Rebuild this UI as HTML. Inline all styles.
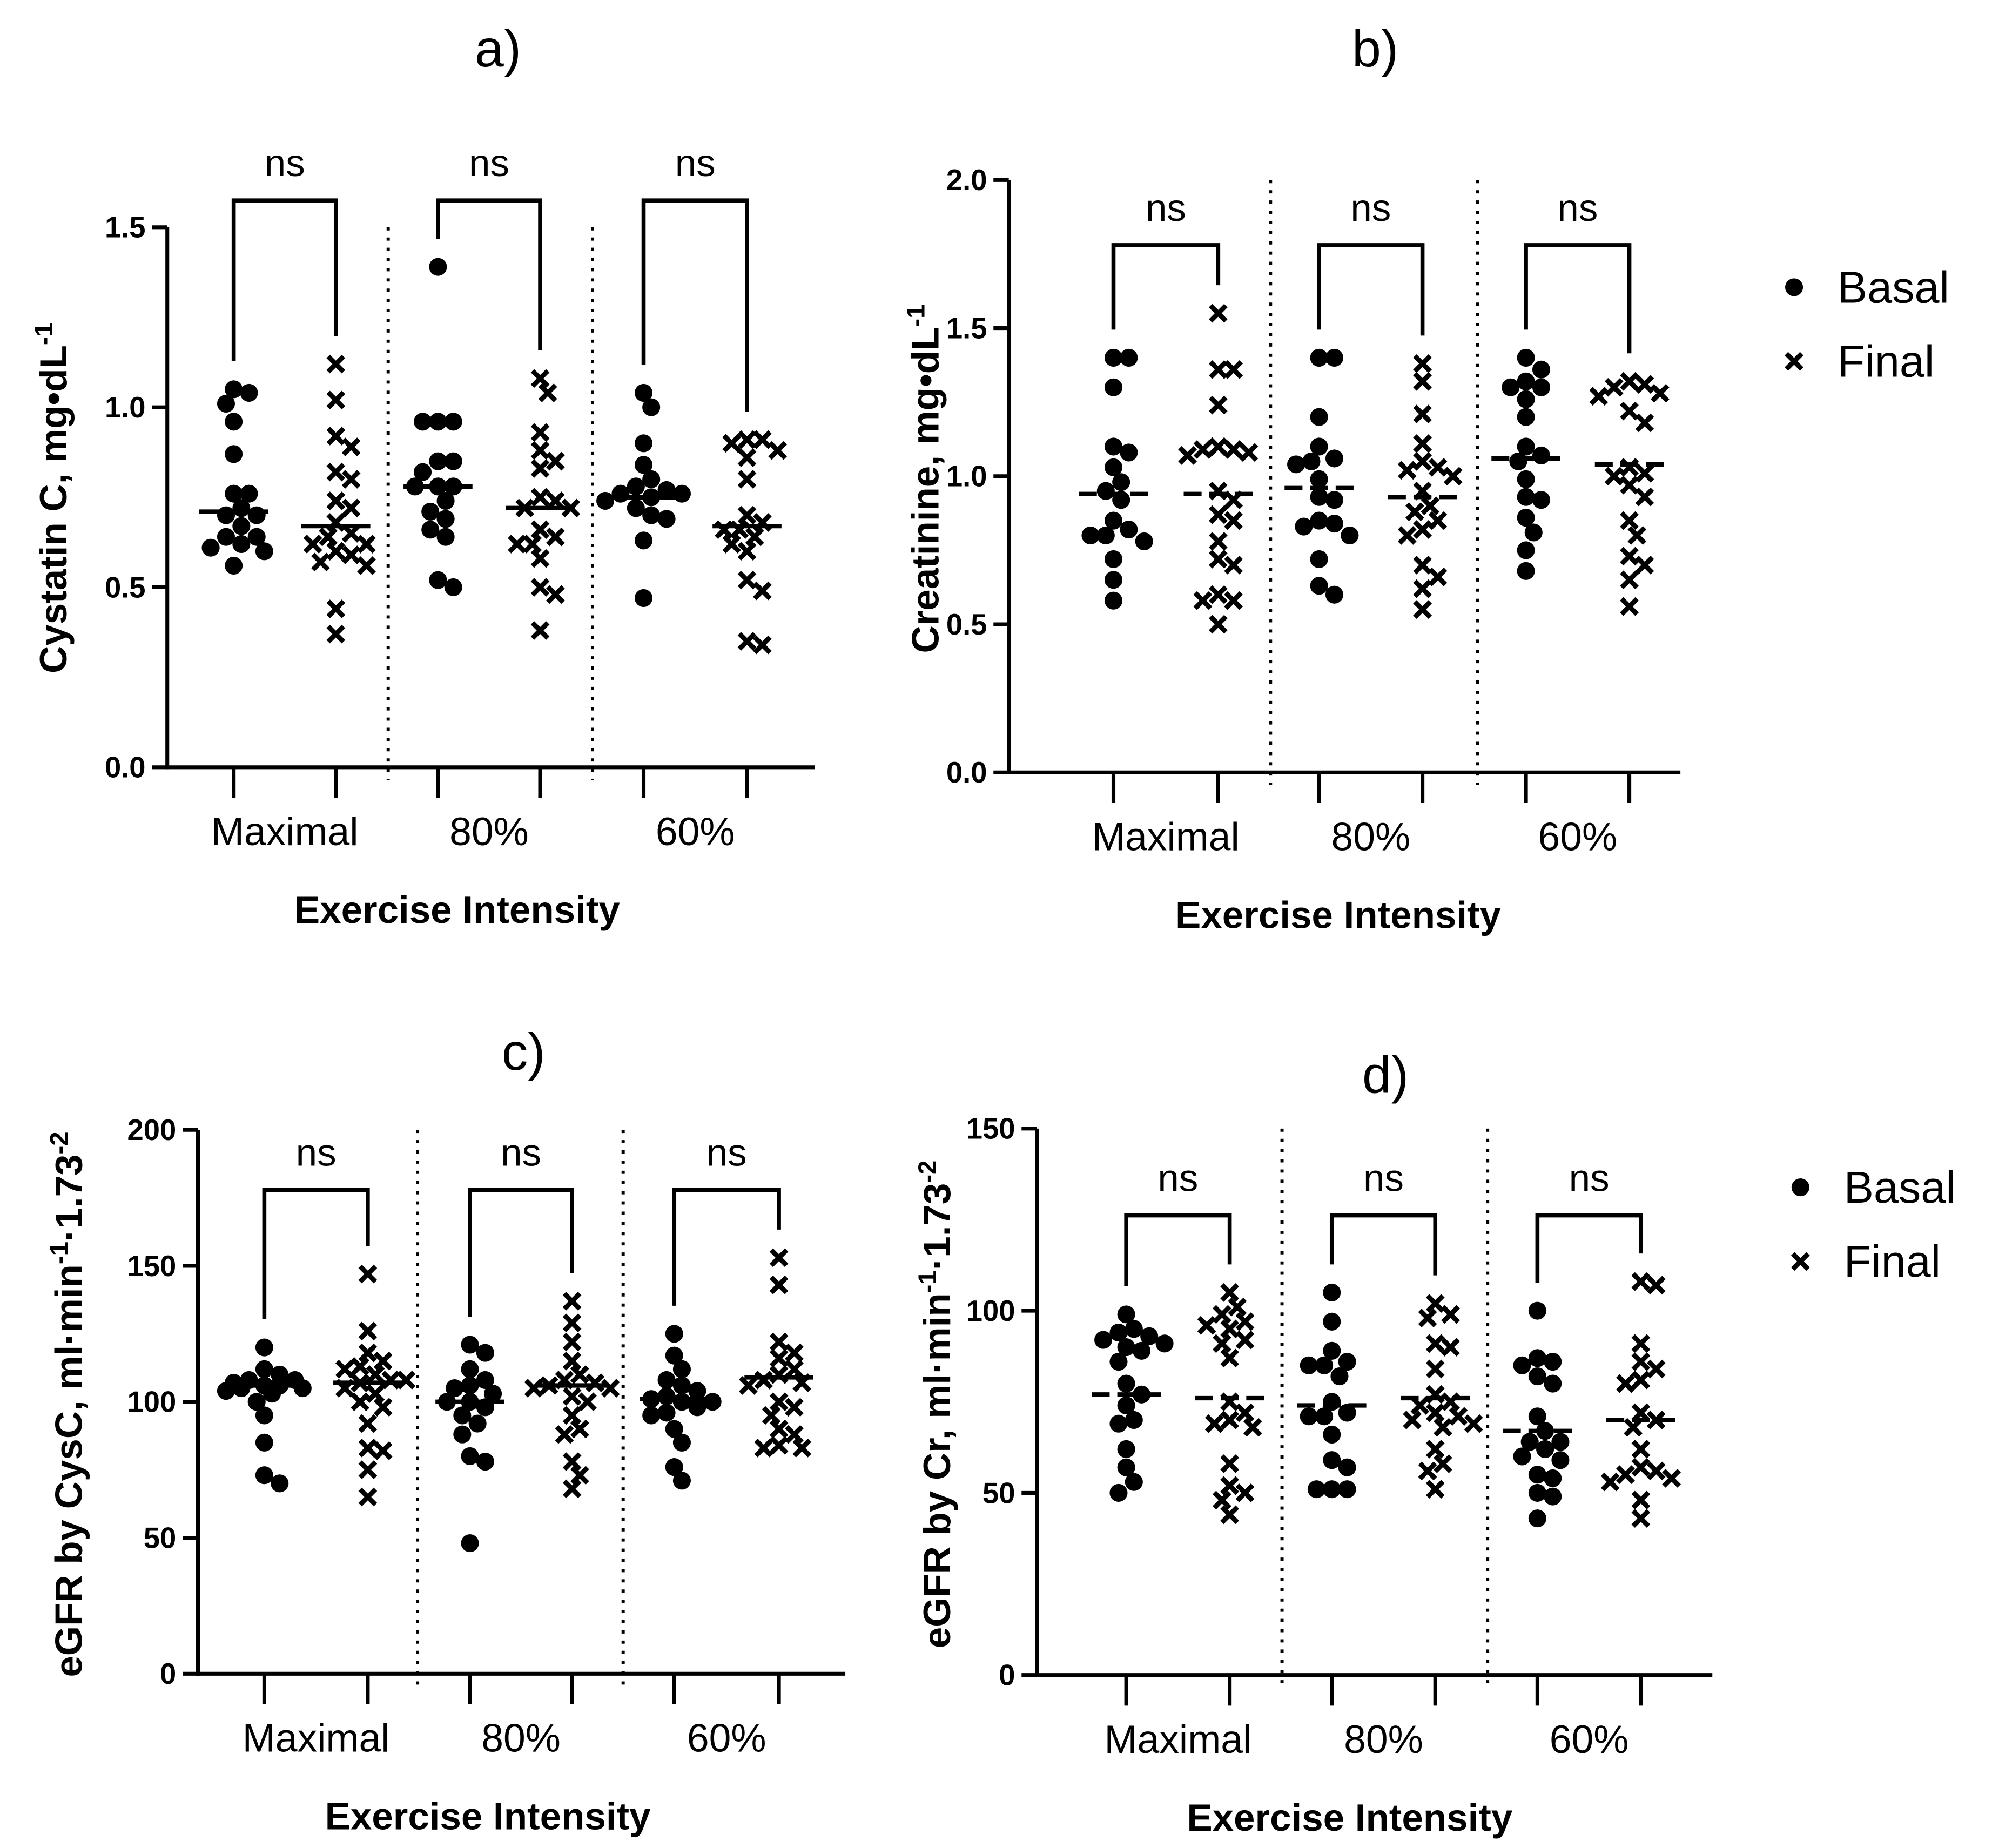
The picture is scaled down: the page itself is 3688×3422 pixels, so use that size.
<!DOCTYPE html>
<html><head><meta charset="utf-8"><style>
html,body{margin:0;padding:0;background:#fff}
svg{display:block}
text{font-family:"Liberation Sans",sans-serif;fill:#000}
.tick{font-family:"Liberation Sans Narrow","Liberation Sans",sans-serif;font-weight:bold;font-size:23px}
.cat{font-size:31px}
.axt{font-weight:bold;font-size:30px}
.ns{font-size:30px}
.ttl{font-size:41px}
.leg{font-size:35px}
</style></head><body>
<svg id="fig" width="3688" height="3422" viewBox="0 0 1560 1447.5" xmlns="http://www.w3.org/2000/svg"></svg>
<script>
const categories = ["Maximal","80%","60%"];
const seriesNames = ["Basal","Final"];
// Panel a: Cystatin C
const aBasalMax=[1.05,1.04,1.01,0.96,0.87,0.76,0.76,0.72,0.70,0.70,0.67,0.64,0.64,0.62,0.61,0.60,0.56];
const aFinalMax=[1.12,1.02,0.92,0.89,0.82,0.80,0.74,0.72,0.68,0.65,0.64,0.62,0.62,0.60,0.59,0.57,0.56,0.44,0.37];
const aBasal80=[1.39,0.96,0.96,0.96,0.85,0.85,0.82,0.78,0.78,0.78,0.74,0.71,0.69,0.66,0.64,0.52,0.50];
const aFinal80=[1.08,1.04,0.93,0.88,0.85,0.83,0.75,0.74,0.72,0.72,0.66,0.64,0.62,0.62,0.58,0.50,0.48,0.38];
const aBasal60=[1.04,1.00,0.90,0.84,0.80,0.78,0.77,0.76,0.76,0.75,0.74,0.72,0.70,0.69,0.63,0.47];
const aFinal60=[0.91,0.91,0.90,0.88,0.86,0.80,0.70,0.68,0.66,0.66,0.64,0.62,0.60,0.52,0.49,0.35,0.34];
const aMedians=[0.71,0.67,0.78,0.72,0.75,0.67];
const aTicks=["0.0","0.5","1.0","1.5"];
// Panel b: Creatinine
const bBasalMax=[1.40,1.40,1.30,1.10,1.08,1.03,0.98,0.95,0.92,0.85,0.82,0.80,0.80,0.78,0.72,0.65,0.58];
const bFinalMax=[1.55,1.36,1.36,1.24,1.10,1.09,1.09,1.08,1.07,0.95,0.92,0.87,0.85,0.78,0.72,0.70,0.60,0.58,0.58,0.50];
const bBasal80=[1.40,1.40,1.20,1.10,1.06,1.05,1.04,0.99,0.93,0.92,0.85,0.84,0.83,0.80,0.72,0.63,0.60];
const bFinal80=[1.38,1.32,1.21,1.11,1.05,1.03,1.02,1.00,0.95,0.90,0.88,0.85,0.82,0.80,0.70,0.66,0.62,0.55];
const bBasal60=[1.40,1.36,1.32,1.30,1.30,1.26,1.20,1.10,1.07,1.05,0.99,0.93,0.92,0.86,0.81,0.75,0.68];
const bFinal60=[1.32,1.31,1.30,1.28,1.27,1.22,1.18,1.03,1.01,1.00,0.97,0.93,0.85,0.80,0.73,0.70,0.65,0.56];
const bMedians=[0.94,0.94,0.96,0.93,1.06,1.04];
const bTicks=["0.0","0.5","1.0","1.5","2.0"];
// Panel c: eGFR by CysC
const cBasalMax=[120,112,110,108,108,107,106,106,105,105,104,103,100,95,85,73,70];
const cFinalMax=[147,126,118,115,113,112,110,108,108,107,105,103,100,98,92,83,82,75,65];
const cBasal80=[121,118,112,108,106,105,103,100,100,98,95,92,88,80,78,48];
const cFinal80=[137,129,122,115,110,108,107,106,105,105,102,100,95,90,88,78,73,68];
const cBasal60=[125,117,112,108,106,104,102,101,100,100,98,96,95,90,85,76,71];
const cFinal60=[153,143,122,118,116,112,110,108,107,106,100,98,95,90,88,84,83,83];
const cMedians=[106,107,100,106,101,109];
const cTicks=["0","50","100","150","200"];
// Panel d: eGFR by Cr
const dBasalMax=[99,95,94,93,92,91,90,89,86,80,77,74,70,69,62,57,53,50];
const dFinalMax=[105,101,99,97,96,95,92,91,87,75,72,70,69,68,58,52,50,48,44];
const dBasal80=[105,97,89,86,85,85,82,75,72,71,71,66,59,57,51,51,51];
const dFinal80=[102,99,98,91,90,84,77,75,74,72,71,70,69,68,62,58,56,51];
const dBasal60=[100,87,86,85,82,80,71,67,64,64,62,60,59,55,54,50,49,43];
const dFinal60=[108,107,91,86,84,81,80,72,70,68,62,57,56,55,54,53,48,43];
const dMedians=[77,76,74,76,67,70];
const dTicks=["0","50","100","150"];

const NS="http://www.w3.org/2000/svg";
const svg=document.getElementById('fig');
function el(tag,attrs,parent,txt){const e=document.createElementNS(NS,tag);for(const k in attrs)e.setAttribute(k,attrs[k]);if(txt!==undefined)e.textContent=txt;(parent||svg).appendChild(e);return e;}

function swarm(vals,yf){
  const placed=[];const out=[];const d=12;const step=6;const maxOff=30;
  vals.forEach(v=>{const y=yf(v);let best=0,bestDist=-1;
    for(let k=0;k<=2*Math.floor(maxOff/step);k++){const cand=k===0?0:(k%2?1:-1)*Math.ceil(k/2)*step;
      const md=placed.length?Math.min(...placed.map(p=>Math.hypot(p[0]-cand,p[1]-y))):999;
      if(md>=d){best=cand;bestDist=md;break;}
      if(md>bestDist){bestDist=md;best=cand;}}
    placed.push([best,y]);out.push([best,y]);});
  return out;
}

function panel(cfg){
  const g=el('g',{},svg);
  
  
  const yf=v=>cfg.y0-(v-cfg.vmin)/(cfg.vmax-cfg.vmin)*(cfg.y0-cfg.y1);
  const t=el('text',{x:cfg.tx,y:cfg.ty,'text-anchor':'middle',class:'ttl'},g,cfg.title);
  
  const ya=el('line',{x1:cfg.ax,y1:cfg.y1,x2:cfg.ax,y2:cfg.y0+1.5,stroke:'#000','stroke-width':3},g);
  
  const xa=el('line',{x1:cfg.ax-1.5,y1:cfg.y0,x2:cfg.axEnd,y2:cfg.y0,stroke:'#000','stroke-width':3},g);
  
  cfg.ticks.forEach(tk=>{const y=yf(parseFloat(tk));
    el('line',{x1:cfg.ax-12,y1:y,x2:cfg.ax,y2:y,stroke:'#000','stroke-width':3},g);
    const tl=el('text',{x:cfg.ax-17,y:y+8,'text-anchor':'end',class:'tick'},g,tk);
    });
  cfg.seps.forEach(sx=>{const s=el('line',{x1:sx,y1:cfg.y1,x2:sx,y2:cfg.y0+10,stroke:'#000','stroke-width':2.5,'stroke-dasharray':'2.5 5.5'},g);
    });
  const yt=el('text',{transform:`translate(${cfg.ytx},${cfg.yty}) rotate(-90)`,'text-anchor':'middle',class:'axt'},g);
  
  cfg.ytitle.forEach(p=>{el('tspan',p[1]?{'baseline-shift':'super','font-size':'20px'}:{},yt,p[0]);});
  const xt=el('text',{x:cfg.xtx,y:cfg.y0+122,'text-anchor':'middle',class:'axt'},g,'Exercise Intensity');
  
  cfg.data.forEach((vals,i)=>{
    const cx=cfg.cx[i];const basal=i%2===0;
    el('line',{x1:cx,y1:cfg.y0,x2:cx,y2:cfg.y0+24,stroke:'#000','stroke-width':3},g);
    if(basal){const cl=el('text',{x:(cx+cfg.cx[i+1])/2,y:cfg.y0+61,'text-anchor':'middle',class:'cat'},g,categories[i/2]);
      }
    swarm(vals,yf).forEach(p=>{
      if(basal){const c=el('circle',{cx:cx+p[0],cy:p[1],r:7,fill:'#000'},g);
        }
      else{const s=6;const m=el('path',{d:`M${cx+p[0]-s},${p[1]-s}L${cx+p[0]+s},${p[1]+s}M${cx+p[0]+s},${p[1]-s}L${cx+p[0]-s},${p[1]+s}`,stroke:'#000','stroke-width':3.8},g);
        }
    });
    const my=yf(cfg.medians[i]);
    const ml=el('line',{x1:cx-27,y1:my,x2:cx+27,y2:my,stroke:'#000','stroke-width':3.5},g);
    if(cfg.dashed)ml.setAttribute('stroke-dasharray','14 6');
    
  });
  for(let k=0;k<3;k++){
    const l=cfg.cx[2*k],r=cfg.cx[2*k+1];
    const ly=yf(Math.max(...cfg.data[2*k]))-22,ry=yf(Math.max(...cfg.data[2*k+1]))-22;
    const b=el('path',{d:`M${l},${ly}L${l},${cfg.by}L${r},${cfg.by}L${r},${ry}`,fill:'none',stroke:'#000','stroke-width':3.2},g);
    
    const n=el('text',{x:(l+r)/2,y:cfg.by-19,'text-anchor':'middle',class:'ns'},g,'ns');
    
  }
  if(cfg.legend){
    const [lx,ly]=cfg.legend;
    const ld=el('circle',{cx:lx,cy:ly,r:7,fill:'#000'},g);
    
    const lt=el('text',{x:lx+34,y:ly+12,class:'leg'},g,seriesNames[0]);
    
    const s=6,fy=ly+58;
    const lm=el('path',{d:`M${lx-s},${fy-s}L${lx+s},${fy+s}M${lx+s},${fy-s}L${lx-s},${fy+s}`,stroke:'#000','stroke-width':3.8},g);
    
    const lt2=el('text',{x:lx+34,y:fy+12,class:'leg'},g,seriesNames[1]);
    
  }
}

panel({name:'panel-a-cystatin',title:'a)',tx:390,ty:52,ax:131,axEnd:638,y0:601,y1:178,vmin:0,vmax:1.5,ticks:aTicks,
  seps:[304,464],cx:[183,263,343,423,504,585],by:157,ytx:52,yty:390,xtx:358,dashed:false,
  ytitle:[['Cystatin C, mg•dL',0],['-1',1]],data:[aBasalMax,aFinalMax,aBasal80,aFinal80,aBasal60,aFinal60],medians:aMedians});
panel({name:'panel-b-creatinine',title:'b)',tx:1077,ty:52,ax:790,axEnd:1316,y0:605,y1:141,vmin:0,vmax:2.0,ticks:bTicks,
  seps:[995,1157],cx:[872,954,1033,1114,1195,1276],by:192,ytx:735,yty:375,xtx:1048,dashed:true,
  ytitle:[['Creatinine, mg•dL',0],['-1',1]],data:[bBasalMax,bFinalMax,bBasal80,bFinal80,bBasal60,bFinal60],medians:bMedians,legend:[1405,225]});
panel({name:'panel-c-egfr-cysc',title:'c)',tx:410,ty:838,ax:155,axEnd:662,y0:1311,y1:885,vmin:0,vmax:200,ticks:cTicks,
  seps:[327,488],cx:[207,288,368,448,528,610],by:932,ytx:64,yty:1100,xtx:382,dashed:false,
  ytitle:[['eGFR by CysC, ml·min',0],['-1',1],['·1.73',0],['-2',1]],data:[cBasalMax,cFinalMax,cBasal80,cFinal80,cBasal60,cFinal60],medians:cMedians});
panel({name:'panel-d-egfr-cr',title:'d)',tx:1085,ty:856,ax:812,axEnd:1341,y0:1312,y1:884,vmin:0,vmax:150,ticks:dTicks,
  seps:[1004,1165],cx:[882,963,1043,1124,1204,1285],by:952,ytx:744,yty:1100,xtx:1057,dashed:true,
  ytitle:[['eGFR by Cr, ml·min',0],['-1',1],['·1.73',0],['-2',1]],data:[dBasalMax,dFinalMax,dBasal80,dFinal80,dBasal60,dFinal60],medians:dMedians,legend:[1410,930]});
</script>
</body></html>
